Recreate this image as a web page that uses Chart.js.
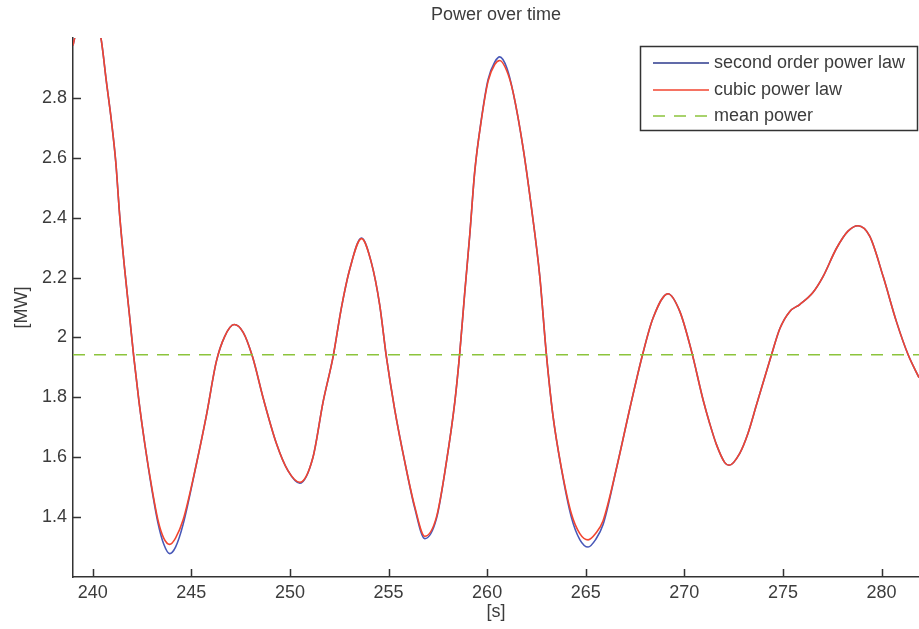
<!DOCTYPE html>
<html>
<head>
<meta charset="utf-8">
<title>Power over time</title>
<script src="https://cdn.jsdelivr.net/npm/chart.js@4.4.1/dist/chart.umd.min.js"></script>
<style>
  html, body { margin: 0; padding: 0; background: #fff; }
  #chart { display: block; }
</style>
</head>
<body>
<canvas id="chart" width="919" height="629"></canvas>
<script>
// time [s]
var time = [
    239.0, 239.4, 239.8, 240.15, 240.44, 240.69, 240.95, 241.17, 241.37, 241.62,
    241.88, 242.08, 242.35, 242.64, 242.98, 243.31, 243.6, 243.9, 244.2, 244.58,
    245.25, 245.76, 246.27, 246.69, 247.17, 247.63, 248.1, 248.65, 249.32, 249.9,
    250.5, 251.17, 251.68, 252.19, 252.61, 253.03, 253.63, 254.13, 254.55, 254.89,
    255.31, 255.82, 256.33, 256.84, 257.43, 257.94, 258.36, 258.61, 258.86, 259.12,
    259.37, 259.71, 260.05, 260.39, 260.64, 261.0, 261.31, 261.82, 262.24, 262.67,
    263.0, 263.34, 263.77, 264.27, 264.7, 265.12, 265.5, 265.88, 266.56, 267.23,
    267.9, 268.41, 269.17, 269.77, 270.36, 270.95, 271.29, 271.63, 272.05, 272.27,
    272.81, 273.23, 273.66, 274.42, 274.84, 275.35, 275.85, 276.53, 277.04, 277.71,
    278.3, 278.81, 279.4, 280.08, 280.76, 281.35, 281.9
];

// power [MW], second order power law
var secondOrder = [
    2.975, 3.09, 3.13, 3.08, 2.99, 2.856, 2.722, 2.585, 2.405, 2.228,
    2.064, 1.936, 1.784, 1.645, 1.500, 1.380, 1.310, 1.278, 1.300, 1.375,
    1.575, 1.738, 1.920, 2.003, 2.043, 2.017, 1.936, 1.796, 1.645, 1.555,
    1.513, 1.600, 1.784, 1.936, 2.099, 2.227, 2.332, 2.250, 2.110, 1.936,
    1.761, 1.586, 1.430, 1.328, 1.395, 1.586, 1.784, 1.947, 2.146, 2.343,
    2.553, 2.730, 2.862, 2.920, 2.937, 2.900, 2.821, 2.635, 2.437, 2.204,
    1.947, 1.738, 1.560, 1.400, 1.325, 1.300, 1.325, 1.375, 1.563, 1.761,
    1.947, 2.064, 2.146, 2.087, 1.955, 1.792, 1.712, 1.642, 1.582, 1.573,
    1.613, 1.680, 1.775, 1.942, 2.029, 2.087, 2.110, 2.151, 2.204, 2.297,
    2.355, 2.373, 2.338, 2.204, 2.052, 1.942, 1.866
];

// power [MW], cubic power law
var cubic = [
    2.975, 3.09, 3.13, 3.08, 2.99, 2.856, 2.722, 2.585, 2.405, 2.228,
    2.064, 1.936, 1.784, 1.645, 1.505, 1.390, 1.330, 1.309, 1.330, 1.390,
    1.575, 1.738, 1.920, 2.003, 2.043, 2.017, 1.936, 1.796, 1.645, 1.555,
    1.516, 1.600, 1.784, 1.936, 2.099, 2.227, 2.330, 2.250, 2.110, 1.936,
    1.761, 1.586, 1.435, 1.336, 1.400, 1.586, 1.784, 1.947, 2.146, 2.343,
    2.553, 2.727, 2.856, 2.912, 2.925, 2.890, 2.821, 2.635, 2.437, 2.204,
    1.947, 1.738, 1.563, 1.412, 1.345, 1.324, 1.345, 1.388, 1.563, 1.761,
    1.947, 2.064, 2.146, 2.087, 1.955, 1.792, 1.712, 1.642, 1.582, 1.573,
    1.613, 1.680, 1.775, 1.942, 2.029, 2.087, 2.110, 2.151, 2.204, 2.297,
    2.355, 2.373, 2.338, 2.204, 2.052, 1.942, 1.866
];

var meanPower = 1.942;

var seriesNames = ['second order power law', 'cubic power law', 'mean power'];
var xTicks = [240, 245, 250, 255, 260, 265, 270, 275, 280];
var yTicks = [1.4, 1.6, 1.8, 2, 2.2, 2.4, 2.6, 2.8];

var textColor = '#3c3c3c';
var axisColor = '#333';
var fontFamily = 'Arial, "Liberation Sans", Helvetica, sans-serif';

function toPoints(xs, ys) {
    return xs.map(function (x, i) { return { x: x, y: ys[i] }; });
}

// title, inward tick marks and the boxed legend
var extras = {
    id: 'extras',
    afterDraw: function (chart) {
        var ctx = chart.ctx;
        var area = chart.chartArea;
        var xs = chart.scales.x;
        var ys = chart.scales.y;

        ctx.save();
        ctx.fillStyle = textColor;
        ctx.font = '18px ' + fontFamily;
        ctx.textAlign = 'center';
        ctx.textBaseline = 'middle';
        ctx.fillText('Power over time', (area.left + area.right) / 2, 15);

        ctx.strokeStyle = axisColor;
        ctx.lineWidth = 1.5;
        ctx.beginPath();
        xTicks.forEach(function (v) {
            var px = Math.round(xs.getPixelForValue(v)) + 0.5;
            ctx.moveTo(px, area.bottom);
            ctx.lineTo(px, area.bottom - 8);
        });
        yTicks.forEach(function (v) {
            var py = Math.round(ys.getPixelForValue(v)) + 0.5;
            ctx.moveTo(area.left, py);
            ctx.lineTo(area.left + 8, py);
        });
        ctx.stroke();

        // legend
        var bx = 640, by = 46, bw = 278, bh = 85;
        ctx.fillStyle = '#fff';
        ctx.fillRect(bx, by, bw, bh);
        ctx.strokeStyle = axisColor;
        ctx.lineWidth = 1.5;
        ctx.strokeRect(bx + 0.5, by + 0.5, bw - 1, bh - 1);

        var rows = [63, 90, 116];
        chart.data.datasets.forEach(function (ds, i) {
            var y = rows[i];
            ctx.beginPath();
            ctx.strokeStyle = ds.legendColor || ds.borderColor;
            ctx.lineWidth = 1.5;
            ctx.setLineDash(ds.borderDash || []);
            ctx.moveTo(653, y);
            ctx.lineTo(709, y);
            ctx.stroke();
            ctx.setLineDash([]);
            ctx.fillStyle = textColor;
            ctx.font = '18px ' + fontFamily;
            ctx.textAlign = 'left';
            ctx.fillText(ds.label, 714, y);
        });
        ctx.restore();
    }
};

var chart = new Chart(document.getElementById('chart'), {
    type: 'line',
    data: {
        datasets: [{
            label: seriesNames[0],
            data: toPoints(time, secondOrder),
            borderColor: '#4858b8',
            legendColor: '#2c3a8c',
            borderWidth: 1.6,
            cubicInterpolationMode: 'monotone',
            pointRadius: 0,
            order: 3
        }, {
            label: seriesNames[1],
            data: toPoints(time, cubic),
            borderColor: '#f2452f',
            borderWidth: 1.6,
            cubicInterpolationMode: 'monotone',
            pointRadius: 0,
            order: 2
        }, {
            label: seriesNames[2],
            data: toPoints([239, 281.9], [meanPower, meanPower]),
            borderColor: '#8cc43c',
            borderWidth: 1.5,
            borderDash: [12, 9],
            pointRadius: 0,
            order: 1
        }]
    },
    options: {
        responsive: false,
        animation: false,
        layout: {
            padding: { top: 38, right: 0, bottom: 0, left: 0 }
        },
        plugins: {
            legend: { display: false },
            tooltip: { enabled: false }
        },
        scales: {
            x: {
                type: 'linear',
                min: 239,
                max: 281.9,
                afterFit: function (scale) { scale.height = 52; },
                grid: { display: false, drawTicks: false },
                border: { display: true, color: axisColor, width: 1.5 },
                afterBuildTicks: function (scale) {
                    scale.ticks = xTicks.map(function (v) { return { value: v }; });
                },
                ticks: {
                    padding: 5,
                    color: textColor,
                    font: { family: fontFamily, size: 18 },
                    maxRotation: 0,
                    autoSkip: false,
                    callback: function (v) { return String(v); }
                },
                title: {
                    display: true,
                    text: '[s]',
                    color: textColor,
                    font: { family: fontFamily, size: 18 },
                    padding: { top: 0, bottom: 6 }
                }
            },
            y: {
                min: 1.2,
                max: 3.0,
                afterFit: function (scale) { scale.width = 73; },
                grid: { display: false, drawTicks: false },
                border: { display: true, color: axisColor, width: 1.5 },
                afterBuildTicks: function (scale) {
                    scale.ticks = yTicks.map(function (v) { return { value: v }; });
                },
                ticks: {
                    padding: 6,
                    color: textColor,
                    font: { family: fontFamily, size: 18 },
                    autoSkip: false,
                    callback: function (v) { return String(+v.toFixed(1)); }
                },
                title: {
                    display: true,
                    text: '[MW]',
                    color: textColor,
                    font: { family: fontFamily, size: 18 },
                    padding: { top: 11, bottom: 0 }
                }
            }
        }
    },
    plugins: [extras]
});
</script>
</body>
</html>
